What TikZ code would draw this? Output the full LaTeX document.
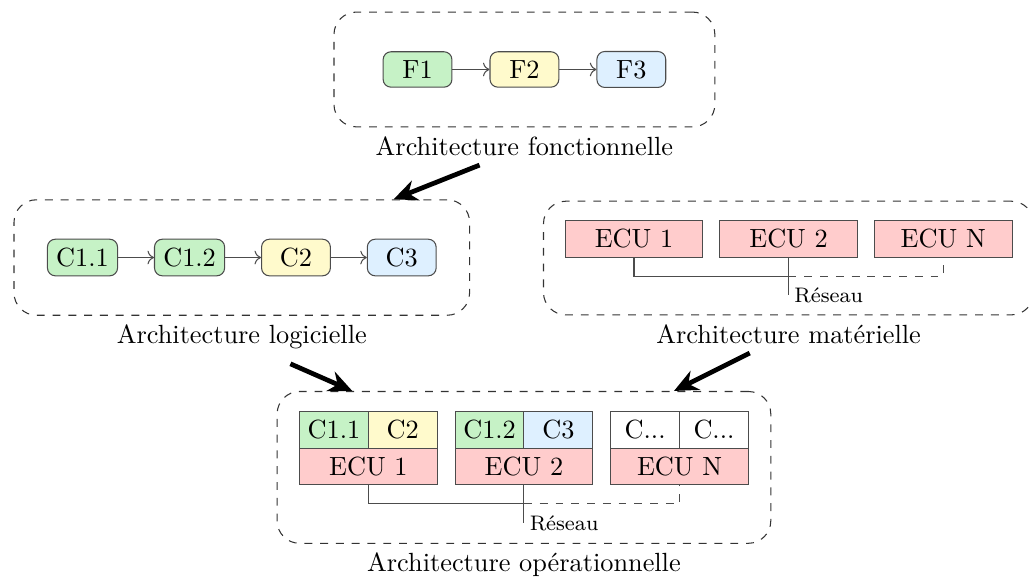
\documentclass[tikz,border=0pt]{standalone}
\usepackage{xcolor}
\usepackage{tikz}
\usetikzlibrary{positioning, fit, arrows.meta}

\definecolor{vertF}{RGB}{198,242,198}
\definecolor{jauneF}{RGB}{255,250,204}
\definecolor{bleuF}{RGB}{222,240,255}
\definecolor{rougeF}{RGB}{255,204,204}

\tikzset{
	bloc/.style={draw=black!70, rounded corners=3pt, minimum width=0.92cm, minimum height=0.47cm},
	ecu/.style={draw=black!70, fill=rougeF, minimum width=1.84cm, minimum height=0.48cm, outer sep=0pt},
	cellule/.style={draw=black!70, minimum width=0.92cm, minimum height=0.47cm, inner xsep=1pt, outer sep=0pt},
	archi/.style={draw=black!80, dashed, rounded corners=0.3cm},
	lien/.style={->, draw=black!70},
	reseau/.style={draw=black!70},
	fleche/.style={line width=1.8pt, -{Stealth[length=9pt, width=8pt]}},
}

\begin{document}
\begin{tikzpicture}[node distance=0.48cm]
			\useasboundingbox (0,0) rectangle (13.757,7.714);

			% architecture fonctionnelle
			\node[bloc, fill=vertF] (f1) at (5.582,6.785) {F1};
			\node[bloc, fill=jauneF, right = 0.495cm of f1] (f2) {F2};
			\node[bloc, fill=bleuF, right = 0.495cm of f2] (f3) {F3};
			\draw (f1) edge[lien] (f2);
			\draw (f2) edge[lien] (f3);
			\node[archi, fit=(f1)(f3), inner xsep=0.65cm, inner ysep=0.52cm] (fonc) {};
			\node[below = 0pt of fonc] (fonclabel) {Architecture fonctionnelle};

			% architecture logicielle
			\node[bloc, fill=vertF] (c11) at (1.103,4.271) {C1.1};
			\node[bloc, fill=vertF, right = of c11] (c12) {C1.2};
			\node[bloc, fill=jauneF, right = of c12] (c2) {C2};
			\node[bloc, fill=bleuF, right = of c2] (c3) {C3};
			\draw (c11) edge[lien] (c12);
			\draw (c12) edge[lien] (c2);
			\draw (c2) edge[lien] (c3);
			\node[archi, fit=(c11)(c3), inner xsep=0.44cm, inner ysep=0.52cm] (logi) {};
			\node[below = 0pt of logi] (logilabel) {Architecture logicielle};

			% architecture materielle
			\node[ecu] (e1) at (8.476,4.519) {ECU 1};
			\node[ecu, right = 0.227cm of e1] (e2) {ECU 2};
			\node[ecu, right = 0.227cm of e2] (eN) {ECU N};
			\coordinate[below = 0.254cm of e2.south] (busm);
			\coordinate[below = 0.51cm of e2.south] (resm);
			\draw[reseau] (e1.south) |- (busm);
			\draw[reseau, dashed] (busm) -| (eN.south);
			\draw[reseau] (e2.south) -- (resm) node[right, font=\footnotesize, inner sep=2pt] (resmlabel) {Réseau};
			\node[archi, fit=(e1)(eN)(resm), inner xsep=0.29cm, inner ysep=0.26cm] (mat) {};
			\node[below = 0pt of mat] (matlabel) {Architecture matérielle};

			% architecture operationnelle
			\node[cellule, fill=vertF] (oc11) at (4.465,1.965) {C1.1};
			\node[cellule, fill=jauneF, right = 0pt of oc11] (oc2) {C2};
			\node[ecu, below = 0pt of oc11.south east] (o1) {ECU 1};
			\node[cellule, fill=vertF, right = 0.24cm of oc2] (oc12) {C1.2};
			\node[cellule, fill=bleuF, right = 0pt of oc12] (oc3) {C3};
			\node[ecu, below = 0pt of oc12.south east] (o2) {ECU 2};
			\node[cellule, right = 0.24cm of oc3] (ocx1) {C...};
			\node[cellule, right = 0pt of ocx1] (ocx2) {C...};
			\node[ecu, below = 0pt of ocx1.south east] (oN) {ECU N};
			\coordinate[below = 0.254cm of o2.south] (buso);
			\coordinate[below = 0.51cm of o2.south] (reso);
			\draw[reseau] (o1.south) |- (buso);
			\draw[reseau, dashed] (buso) -| (oN.south);
			\draw[reseau] (o2.south) -- (reso) node[right, font=\footnotesize, inner sep=2pt] (resolabel) {Réseau};
			\node[archi, fit=(oc11)(ocx2)(reso), inner xsep=0.3cm, inner ysep=0.27cm] (oper) {};
			\node[below = 0pt of oper] (operlabel) {Architecture opérationnelle};

			% fleches entre architectures
			\draw[fleche] ([xshift=-0.6cm]fonclabel.south) -- (logi.21);
			\draw[fleche] ([xshift=0.65cm, yshift=-0.07cm]logilabel.south) -- (oper.156);
			\draw[fleche] ([xshift=-0.52cm]matlabel.south) -- (oper.27);
		\end{tikzpicture}
\end{document}
